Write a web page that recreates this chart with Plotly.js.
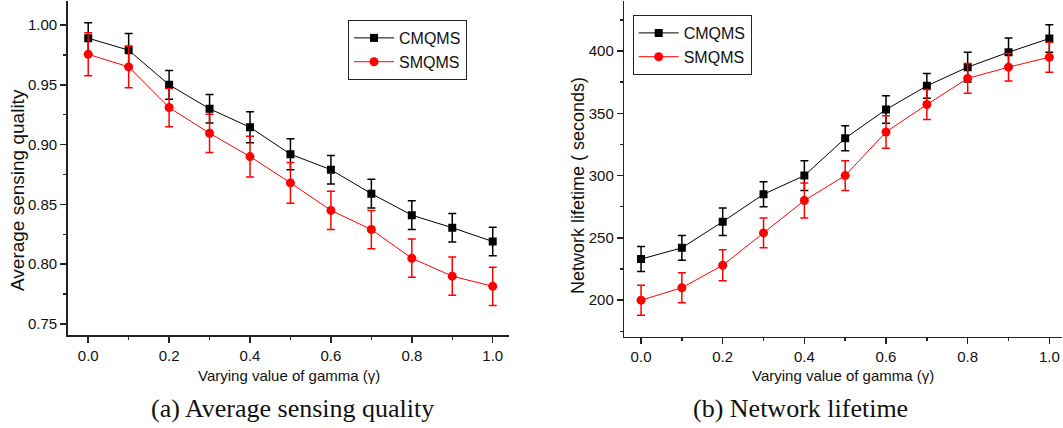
<!DOCTYPE html>
<html><head><meta charset="utf-8">
<script src="https://cdn.plot.ly/plotly-3.0.1.min.js"></script>
<style>html,body{margin:0;padding:0;background:#fff}#chart{width:1063px;height:428px}</style>
</head><body><div id="chart"></div>
<script>
const gamma = [0.0, 0.1, 0.2, 0.3, 0.4, 0.5, 0.6, 0.7, 0.8, 0.9, 1.0];
const seriesNames = ['CMQMS', 'SMQMS'];
const cmqmsQuality = [0.989, 0.979, 0.950, 0.930, 0.9145, 0.892, 0.879, 0.859, 0.841, 0.8305, 0.819];
const cmqmsQualityErr = [0.013, 0.014, 0.012, 0.012, 0.013, 0.013, 0.012, 0.012, 0.012, 0.012, 0.012];
const smqmsQuality = [0.9755, 0.965, 0.931, 0.9095, 0.890, 0.868, 0.845, 0.829, 0.805, 0.790, 0.7815];
const smqmsQualityErr = [0.018, 0.0175, 0.016, 0.016, 0.017, 0.017, 0.016, 0.016, 0.016, 0.016, 0.016];
const cmqmsLifetime = [233, 242, 263, 285, 300, 330, 353, 372, 387, 399, 410];
const cmqmsLifetimeErr = [10, 10, 11, 10, 12, 10, 11, 10, 12, 11.5, 11];
const smqmsLifetime = [200, 210, 228, 254, 280, 300, 335, 357, 378, 387, 395];
const smqmsLifetimeErr = [12, 12, 12.5, 12, 14, 12, 13, 12, 12, 11, 12];
const xTitle = 'Varying value of gamma (γ)';
const yTitleA = 'Average sensing quality';
const yTitleB = 'Network lifetime ( seconds)';
const captionA = '(a) Average sensing quality';
const captionB = '(b) Network lifetime';

const W = 1063, H = 428;
const sans = 'Liberation Sans, Arial, sans-serif';
const axisColor = '#222';

function mk(x, y, err, name, color, symbol, size, xa, ya, leg) {
  return {
    x: x, y: y, name: name, type: 'scatter', mode: 'lines+markers',
    xaxis: xa, yaxis: ya, legend: leg,
    line: {color: color, width: 1},
    marker: {color: color, symbol: symbol, size: size},
    error_y: {type: 'data', array: err, visible: true, color: color, thickness: 1.5, width: 4}
  };
}

const data = [
  mk(gamma, cmqmsQuality, cmqmsQualityErr, seriesNames[0], '#000000', 'square', 8, 'x', 'y', 'legend'),
  mk(gamma, smqmsQuality, smqmsQualityErr, seriesNames[1], '#ff0000', 'circle', 9, 'x', 'y', 'legend'),
  mk(gamma, cmqmsLifetime, cmqmsLifetimeErr, seriesNames[0], '#000000', 'square', 8, 'x2', 'y2', 'legend2'),
  mk(gamma, smqmsLifetime, smqmsLifetimeErr, seriesNames[1], '#ff0000', 'circle', 9, 'x2', 'y2', 'legend2')
];

const px = v => v / W;
const py = v => 1 - v / H;

const tickFont = {family: sans, size: 15, color: '#111'};
function baseAxis(extra) {
  return Object.assign({
    showgrid: false, zeroline: false, showline: true, linecolor: axisColor, linewidth: 1.5,
    ticks: 'outside', ticklen: 6, tickwidth: 1.5, tickcolor: axisColor,
    tickfont: tickFont
  }, extra);
}
function mirrorAxis(extra) {
  return Object.assign({
    showgrid: false, zeroline: false, showline: true, linecolor: axisColor, linewidth: 1.5,
    ticks: 'inside', ticklen: 6, tickwidth: 1.5, tickcolor: axisColor, showticklabels: false
  }, extra);
}
const minorOut = d => ({ticks: 'outside', ticklen: 3, tickwidth: 1.5, tickcolor: axisColor, dtick: d});
const minorIn = d => ({ticks: 'inside', ticklen: 3, tickwidth: 1.5, tickcolor: axisColor, dtick: d});

const xRangeA = [-0.0507, 1.041], yRangeA = [0.7408, 1.0201];
const xRangeB = [-0.041, 1.031], yRangeB = [170.7, 440.1];
const domXA = [px(67.7), px(509.3)], domYA = [py(335), py(1)];
const domXB = [px(624.3), px(1062)], domYB = [py(336.7), py(1)];

const legendStyle = {xanchor: 'left', yanchor: 'top', bgcolor: '#fff', bordercolor: axisColor, borderwidth: 1, font: {family: sans, size: 16, color: '#111'}, tracegroupgap: 0, itemwidth: 40};

const layout = {
  width: W, height: H,
  margin: {l: 0, r: 0, t: 0, b: 0},
  paper_bgcolor: '#fff', plot_bgcolor: '#fff',
  showlegend: true,
  xaxis: baseAxis({domain: domXA, range: xRangeA, anchor: 'y', tick0: 0, dtick: 0.2, tickformat: '.1f', minor: minorOut(0.1)}),
  yaxis: baseAxis({domain: domYA, range: yRangeA, anchor: 'x', tick0: 0.75, dtick: 0.05, tickformat: '.2f', minor: minorOut(0.025)}),
  xaxis3: mirrorAxis({overlaying: 'x', anchor: 'y', side: 'top', range: xRangeA, tick0: 0, dtick: 0.2, minor: minorIn(0.1)}),
  yaxis3: mirrorAxis({overlaying: 'y', anchor: 'x', side: 'right', range: yRangeA, tick0: 0.75, dtick: 0.05, minor: minorIn(0.025)}),
  xaxis2: baseAxis({domain: domXB, range: xRangeB, anchor: 'y2', tick0: 0, dtick: 0.2, tickformat: '.1f', minor: minorOut(0.1)}),
  yaxis2: baseAxis({domain: domYB, range: yRangeB, anchor: 'x2', tick0: 200, dtick: 50, minor: minorOut(25)}),
  xaxis4: mirrorAxis({overlaying: 'x2', anchor: 'y2', side: 'top', range: xRangeB, tick0: 0, dtick: 0.2, minor: minorIn(0.1)}),
  yaxis4: mirrorAxis({overlaying: 'y2', anchor: 'x2', side: 'right', range: yRangeB, tick0: 200, dtick: 50, minor: minorIn(25)}),
  legend: Object.assign({x: px(348), y: py(20)}, legendStyle),
  legend2: Object.assign({x: px(632.7), y: py(15)}, legendStyle),
  annotations: [
    {text: xTitle, x: px(288.5), y: py(375), xref: 'paper', yref: 'paper', xanchor: 'center', yanchor: 'middle', showarrow: false, font: {family: sans, size: 15, color: '#111'}},
    {text: xTitle, x: px(843), y: py(375), xref: 'paper', yref: 'paper', xanchor: 'center', yanchor: 'middle', showarrow: false, font: {family: sans, size: 15, color: '#111'}},
    {text: yTitleA, x: px(17), y: py(190), xref: 'paper', yref: 'paper', xanchor: 'center', yanchor: 'middle', textangle: -90, showarrow: false, font: {family: sans, size: 19, color: '#111'}},
    {text: yTitleB, x: px(578), y: py(186), xref: 'paper', yref: 'paper', xanchor: 'center', yanchor: 'middle', textangle: -90, showarrow: false, font: {family: sans, size: 18, color: '#111'}},
    {text: captionA, x: px(292), y: py(408), xref: 'paper', yref: 'paper', xanchor: 'center', yanchor: 'middle', showarrow: false, font: {family: 'Liberation Serif, serif', size: 26, color: '#111'}},
    {text: captionB, x: px(800), y: py(408), xref: 'paper', yref: 'paper', xanchor: 'center', yanchor: 'middle', showarrow: false, font: {family: 'Liberation Serif, serif', size: 26, color: '#111'}}
  ]
};

Plotly.newPlot('chart', data, layout, {displayModeBar: false, staticPlot: true});
</script></body></html>
